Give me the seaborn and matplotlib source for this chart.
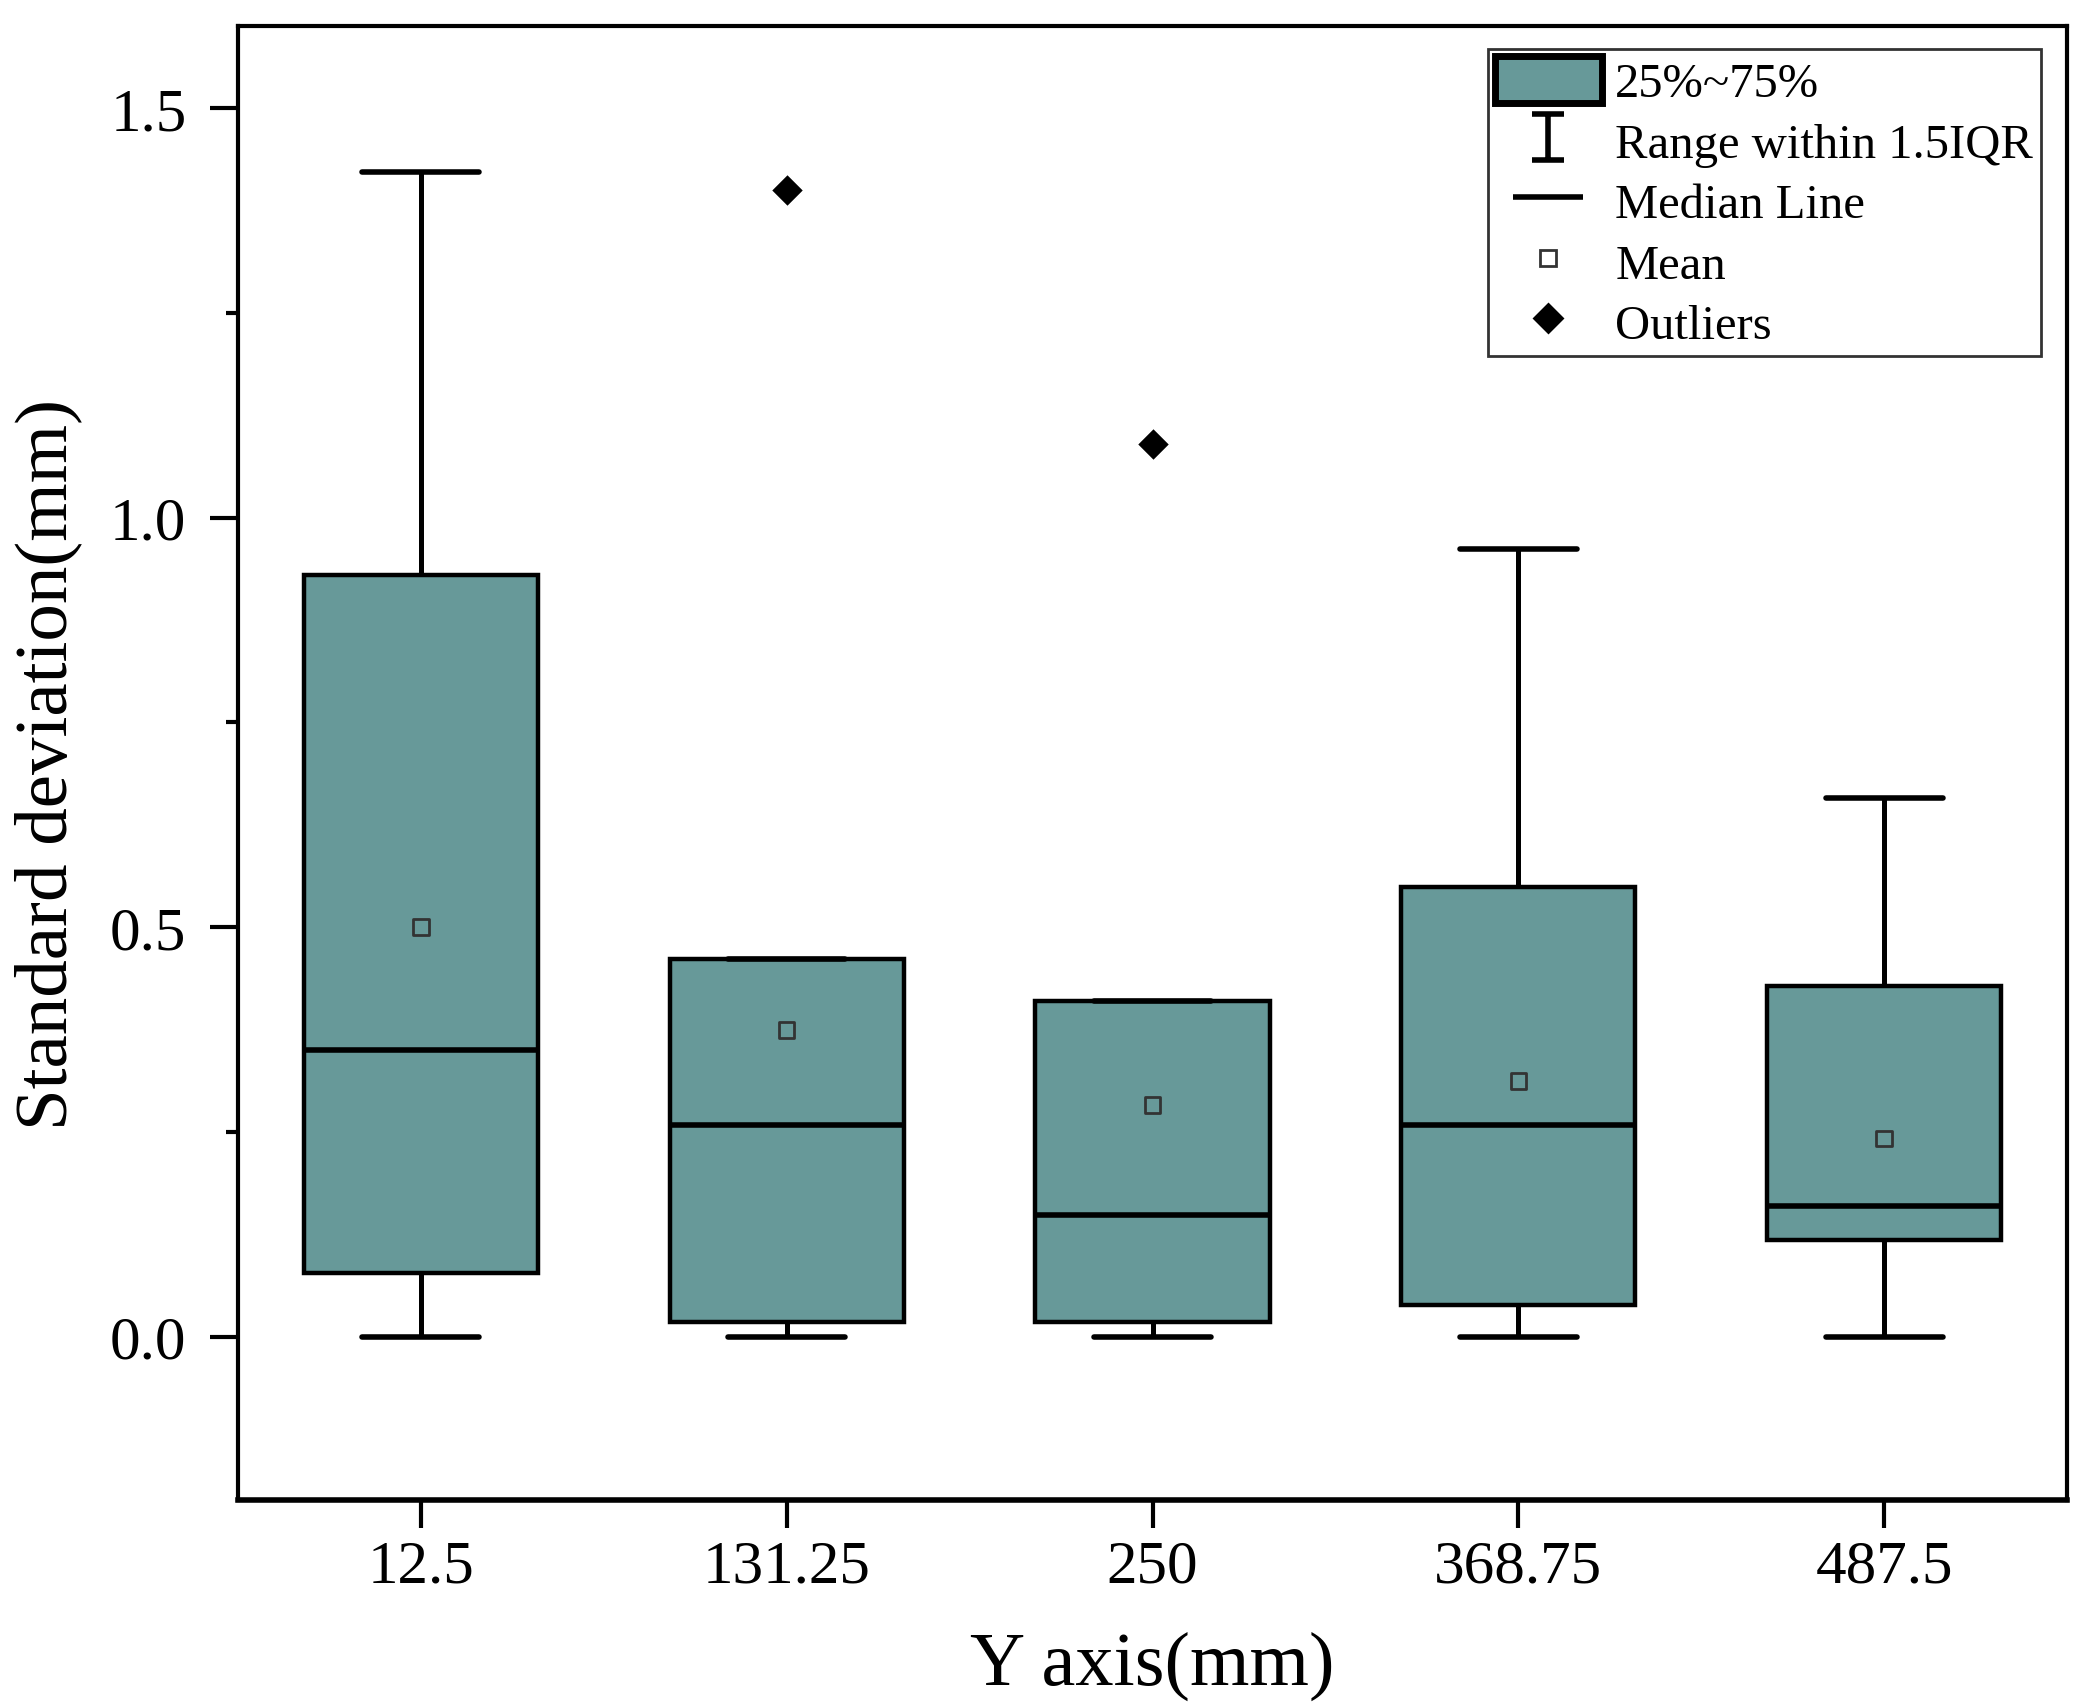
import numpy as np
import pandas as pd
import matplotlib
matplotlib.use("Agg")
import matplotlib.pyplot as plt
import seaborn as sns
from matplotlib.lines import Line2D
from matplotlib.patches import Patch
from matplotlib.path import Path
from matplotlib.ticker import MultipleLocator, FormatStrFormatter

# five-number summaries
positions = ["12.5", "131.25", "250", "368.75", "487.5"]
whisker_low = [0.0, 0.0, 0.0, 0.0, 0.0]
q1 = [0.078, 0.018, 0.018, 0.039, 0.118]
median = [0.350, 0.258, 0.149, 0.258, 0.160]
q3 = [0.930, 0.461, 0.410, 0.549, 0.428]
whisker_high = [1.422, 0.461, 0.410, 0.962, 0.658]
mean = [0.500, 0.374, 0.283, 0.312, 0.242]
outlier_pos = ["131.25", "250"]
outlier_val = [1.400, 1.090]

TEAL = "#679999"

sns.set_style("ticks")
plt.rcParams.update({
    "font.family": ["Liberation Serif", "DejaVu Serif"],
    "axes.linewidth": 1.5,
    "text.color": "black",
    "axes.labelcolor": "black",
    "axes.edgecolor": "black",
    "xtick.color": "black",
    "ytick.color": "black",
})

# long-form table: each group is its five-number summary
rows = []
for i, p in enumerate(positions):
    for v in (whisker_low[i], q1[i], median[i], q3[i], whisker_high[i]):
        rows.append({"pos": p, "sd": v})
df = pd.DataFrame(rows)

fig = plt.figure(figsize=(10.43, 8.54), dpi=200)
ax = fig.add_axes([0.114, 0.121, 0.877, 0.863])

sns.boxplot(data=df, x="pos", y="sd", order=positions, ax=ax, width=0.64,
            color=TEAL, saturation=1, linecolor="black", linewidth=1.6,
            whis=1.5, showfliers=False,
            medianprops={"linewidth": 2.0, "color": "black"},
            whiskerprops={"linewidth": 1.8},
            capprops={"linewidth": 2.0})

sns.scatterplot(x=positions, y=mean, ax=ax, marker="s", s=32,
                facecolor="none", edgecolor="#333333", linewidth=1.0, zorder=5)
sns.scatterplot(x=outlier_pos, y=outlier_val, ax=ax, marker="D", s=60,
                color="black", linewidth=0, zorder=5)

ax.set_xlim(-0.5, 4.5)
ax.set_ylim(-0.2, 1.6)
ax.yaxis.set_major_locator(MultipleLocator(0.5))
ax.yaxis.set_minor_locator(MultipleLocator(0.25))
ax.yaxis.set_major_formatter(FormatStrFormatter("%.1f"))
ax.tick_params(axis="both", which="major", length=10, width=1.5,
               labelsize=22, direction="out")
ax.tick_params(axis="y", which="major", pad=8.5)
ax.tick_params(axis="x", which="major", pad=4)
ax.tick_params(axis="y", which="minor", length=4.5, width=1.5)
ax.tick_params(axis="x", which="minor", bottom=False)
for side in ["top", "right", "left", "bottom"]:
    ax.spines[side].set_visible(True)
    ax.spines[side].set_linewidth(1.5)
ax.spines["bottom"].set_linewidth(2.0)

ax.set_xlabel("Y axis(mm)", fontsize=27.5, labelpad=13)
ax.set_ylabel("Standard deviation(mm)", fontsize=27, labelpad=10)

# legend symbols
ibeam = Path([(-0.7, -1), (0.7, -1), (0, -1), (0, 1), (-0.7, 1), (0.7, 1)],
             [Path.MOVETO, Path.LINETO, Path.MOVETO, Path.LINETO, Path.MOVETO, Path.LINETO])
handles = [
    Patch(facecolor=TEAL, edgecolor="black", linewidth=2.5),
    Line2D([], [], linestyle="none", marker=ibeam, markersize=16.5,
           markeredgecolor="black", markeredgewidth=2.0, fillstyle="none"),
    Line2D([], [], linestyle="none", marker="_", markersize=25,
           markeredgecolor="black", markeredgewidth=2.0),
    Line2D([], [], linestyle="none", marker="s", markersize=6,
           markerfacecolor="none", markeredgecolor="#333333", markeredgewidth=1.0),
    Line2D([], [], linestyle="none", marker="D", markersize=7,
           color="black"),
]
labels = ["25%~75%", "Range within 1.5IQR", "Median Line", "Mean", "Outliers"]
leg = ax.legend(handles, labels, loc="upper right", bbox_to_anchor=(0.9854, 0.9846),
                fontsize=17.5, frameon=True, fancybox=False, edgecolor="black",
                handlelength=2.2, handleheight=1.1, labelspacing=0.22,
                handletextpad=0.28, borderpad=0.15, borderaxespad=0.0)
leg.get_frame().set_linewidth(1.0)

fig.savefig("out.png", dpi=200)
